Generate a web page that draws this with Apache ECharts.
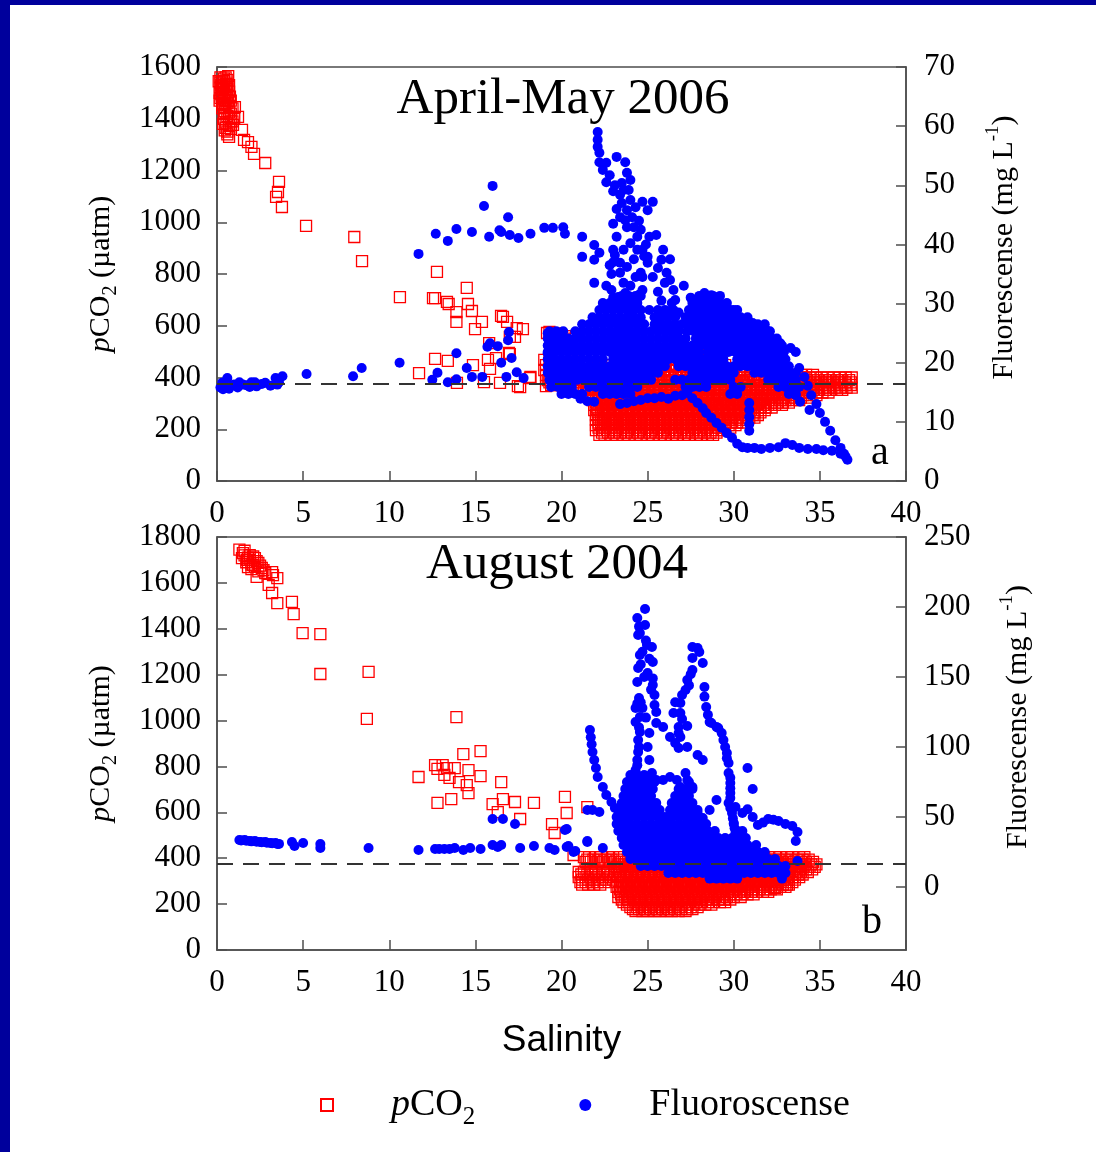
<!DOCTYPE html>
<html>
<head>
<meta charset="utf-8">
<script src="https://cdn.jsdelivr.net/npm/echarts@6/dist/echarts.min.js"></script>
<style>
html,body{margin:0;padding:0;background:#ffffff;}
#chart{width:1096px;height:1152px;}
</style>
</head>
<body>
<div id="chart"></div>
<script>
// ---------------- DATA ----------------
// Panel a: April-May 2006. pCO2 pairs [salinity, pCO2 µatm]
const aprPco2Sparse = [
[0.2,1560],[0.3,1545],[0.4,1555],[0.5,1560],[0.6,1550],[0.2,1520],[0.3,1500],[0.4,1530],[0.5,1510],[0.6,1525],
[0.2,1480],[0.3,1460],[0.5,1470],[0.6,1490],[0.7,1505],[0.3,1440],[0.4,1420],[0.5,1445],[0.7,1450],[0.8,1470],
[0.4,1400],[0.5,1385],[0.6,1410],[0.8,1420],[0.9,1440],[0.5,1365],[0.6,1350],[0.7,1375],[0.9,1390],[1.0,1400],
[0.6,1340],[0.8,1360],[0.1,1545],[0.15,1500],[0.25,1530],[0.35,1515],[0.45,1490],[0.55,1535],[0.65,1565],[0.15,1470],
[0.3,1485],[0.45,1455],[0.65,1470],[0.75,1485],[0.35,1380],[0.45,1355],[0.8,1390],[0.7,1330],
[0.2,1540],[0.3,1525],[0.4,1545],[0.5,1535],[0.6,1515],[0.7,1530],[0.25,1495],[0.4,1475],[0.55,1480],[0.35,1455],
[0.6,1460],[0.45,1430],[0.7,1425],
[1.04,1445],[1.22,1407],[0.93,1376],[1.45,1357],[1.57,1318],[1.8,1310],[2.0,1291],[2.15,1264],[2.8,1229],[3.6,1156],
[3.54,1117],[3.43,1098],[3.77,1059],[5.17,986],[7.97,943],[8.42,850],[10.62,711],[12.77,808],[12.54,707],[12.66,707],
[13.35,692],[13.45,684],[13.9,653],[13.9,615],[14.5,746],[14.57,684],[14.8,657],[15.38,615],[14.98,587],[16.49,638],
[16.84,615],[17.76,587],[17.3,557],[17.0,557],[15.8,533],[16.95,495],[19.16,572],[12.66,472],[13.4,464],[11.73,417],
[14.86,448],[15.73,468],[15.85,433],[16.2,475],[17.0,490],[18.17,398],[17.47,367],[16.43,379],[15.5,382],[13.93,379],
[19.1,367],[16.6,634],[17.4,591],[19.3,576],[19.8,570],[20.2,560],[20.6,550],[18.2,402],[17.6,363]
];
// dense part of panel a pCO2: rows of [pCO2, [salinities]]
const aprPco2Dense = [
[506,[25.9,26.3,26.6,26.9,28.9,29.2]],
[487,[25.0,25.4,25.7,26.0,26.4,26.7,27.1,27.4,27.8,28.1,28.5]],
[468,[19.0,19.3,19.7,20.0,20.3,20.7,21.0,21.4,24.1,24.5,24.8,25.1,25.5,25.8,26.2,26.5,26.8,27.2,27.5,27.9,28.2,28.6,28.9,29.3]],
[448,[19.1,19.5,19.8,20.2,20.5,20.9,21.2,21.5,21.9,22.3,22.6,22.9,23.3,23.6,24.0,24.3,24.7,25.0,25.3,25.7,26.0,26.4,26.7,27.0,27.4,27.7,28.1,28.4,28.8,29.1,29.5]],
[429,[19.0,19.3,19.7,20.0,20.4,20.7,21.1,21.4,21.7,22.1,22.4,22.8,23.1,23.5,23.8,24.2,24.5,24.9,25.2,25.6,25.9,26.2,26.6,26.9,27.3,27.6,28.0,28.3,28.6,29.0,29.3,29.7,30.0,30.4]],
[410,[19.1,19.5,19.8,20.2,20.5,20.9,21.2,21.6,21.9,22.3,22.6,22.9,23.3,23.6,24.0,24.4,24.7,25.0,25.4,25.7,26.1,26.4,26.8,27.1,27.5,27.8,28.2,28.5,28.9,29.2,29.6,29.9,30.3,30.6,31.0,31.4,33.5,33.9,34.2,34.6]],
[400,[19.3,19.65,20.0,20.35,20.7,21.05,21.4,21.75,22.1,22.45,22.8,23.15,23.5,23.85,24.2,24.55,24.9,25.25,25.6,25.95,26.3,26.65,27.0,27.35,27.7,28.05,28.4,28.75,29.1,29.45,29.8,30.15,30.5,30.85,31.2,33.7,34.05,34.4,34.75,35.1,35.45,35.8,36.15,36.5,36.85]],
[390,[19.2,19.5,19.9,20.2,20.6,20.9,21.3,21.6,22.0,22.3,22.7,23.0,23.4,23.7,24.1,24.4,24.8,25.1,25.5,25.8,26.2,26.5,26.9,27.2,27.6,27.9,28.3,28.6,29.0,29.3,29.7,30.0,30.4,30.7,31.1,31.4,31.8,32.1,32.5,32.8,33.2,33.5,33.9,34.2,34.6,34.9,35.3,35.6,36.0,36.3,36.7]],
[381,[19.3,19.65,20.0,20.35,20.7,21.05,21.4,21.75,22.1,22.45,22.8,23.15,23.5,23.85,24.2,24.55,24.9,25.25,25.6,25.95,26.3,26.65,27.0,27.35,27.7,28.05,28.4,28.75,29.1,29.45,29.8,30.15,30.5,30.85,31.2,31.55,31.9,32.25,32.6,32.95,33.3,33.65,34.0,34.35,34.7,35.05,35.4,35.75,36.1,36.45,36.8]],
[371,[19.4,19.7,20.1,20.4,20.8,21.1,21.5,21.8,22.2,22.5,22.9,23.2,23.6,23.9,24.3,24.6,25.0,25.3,25.7,26.0,26.4,26.7,27.1,27.4,27.8,28.1,28.5,28.8,29.2,29.5,29.9,30.2,30.6,30.9,31.3,31.6,32.0,32.3,32.7,33.0,33.4,33.7,34.1,34.4,34.8,35.1,35.5,35.8,36.2,36.5,36.8]],
[361,[20.1,20.45,20.8,21.15,21.5,21.85,22.2,22.55,22.9,23.25,23.6,23.95,24.3,24.65,25.0,25.35,25.7,26.05,26.4,26.75,27.1,27.45,27.8,28.15,28.5,28.85,29.2,29.55,29.9,30.25,30.6,30.95,31.3,31.65,32.0,32.35,32.7,33.05,33.4,33.75,34.1,34.45,34.8,35.15,35.5,35.85,36.2,36.55,36.85]],
[352,[20.9,21.3,21.6,22.0,22.3,22.7,23.0,23.4,23.7,24.1,24.4,24.8,25.1,25.5,25.8,26.2,26.5,26.9,27.2,27.6,27.9,28.3,28.6,29.0,29.3,29.7,30.0,30.4,30.7,31.1,31.4,31.8,32.1,32.5,32.8,33.2,33.5,33.9,34.2,34.6,34.9,35.3,35.6,36.0,36.3]],
[342,[21.5,21.85,22.2,22.55,22.9,23.25,23.6,23.95,24.3,24.65,25.0,25.35,25.7,26.05,26.4,26.75,27.1,27.45,27.8,28.15,28.5,28.85,29.2,29.55,29.9,30.25,30.6,30.95,31.3,31.65,32.0,32.35,32.7,33.05,33.4,33.75,34.1,34.45,34.8,35.15,35.5]],
[332,[21.8,22.1,22.5,22.8,23.2,23.5,23.9,24.2,24.6,24.9,25.3,25.6,26.0,26.3,26.7,27.0,27.4,27.7,28.1,28.4,28.8,29.1,29.5,29.8,30.2,30.5,30.9,31.2,31.6,31.9,32.3,32.6,33.0,33.3,33.7,34.0,34.4,34.8]],
[322,[22.0,22.35,22.7,23.05,23.4,23.75,24.1,24.45,24.8,25.15,25.5,25.85,26.2,26.55,26.9,27.25,27.6,27.95,28.3,28.65,29.0,29.35,29.7,30.05,30.4,30.75,31.1,31.45,31.8,32.15,32.5,32.85,33.2,33.55,33.9,34.25]],
[313,[21.8,22.2,22.5,22.9,23.2,23.6,23.9,24.3,24.6,25.0,25.3,25.7,26.0,26.4,26.7,27.1,27.4,27.8,28.1,28.5,28.8,29.2,29.5,29.9,30.2,30.6,30.9,31.3,31.6,32.0,32.3,32.7,33.0,33.4,33.8]],
[303,[22.0,22.35,22.7,23.05,23.4,23.75,24.1,24.45,24.8,25.15,25.5,25.85,26.2,26.55,26.9,27.25,27.6,27.95,28.3,28.65,29.0,29.35,29.7,30.05,30.4,30.75,31.1,31.45,31.8,32.15,32.5,32.85,33.2]],
[294,[21.9,22.2,22.6,22.9,23.3,23.6,24.0,24.3,24.7,25.0,25.4,25.7,26.1,26.4,26.8,27.1,27.5,27.8,28.2,28.5,28.9,29.2,29.6,29.9,30.3,30.6,31.0,31.3,31.7,32.0,32.4,32.8]],
[284,[22.05,22.4,22.75,23.1,23.45,23.8,24.15,24.5,24.85,25.2,25.55,25.9,26.25,26.6,26.95,27.3,27.65,28.0,28.35,28.7,29.05,29.4,29.75,30.1,30.45,30.8,31.15,31.5,31.85,32.2]],
[274,[21.9,22.3,22.6,23.0,23.3,23.7,24.0,24.4,24.7,25.1,25.4,25.8,26.1,26.5,26.8,27.2,27.5,27.9,28.2,28.6,28.9,29.3,29.6,30.0,30.3,30.7,31.0,31.4,31.8]],
[265,[22.1,22.45,22.8,23.15,23.5,23.85,24.2,24.55,24.9,25.25,25.6,25.95,26.3,26.65,27.0,27.35,27.7,28.05,28.4,28.75,29.1,29.45,29.8,30.15,30.5,30.85,31.2,31.55]],
[255,[22.0,22.3,22.7,23.0,23.4,23.7,24.1,24.4,24.8,25.1,25.5,25.8,26.2,26.5,26.9,27.2,27.6,27.9,28.3,28.6,29.0,29.3,29.7,30.0,30.4,30.7,31.1,31.4]],
[245,[22.15,22.5,22.85,23.2,23.55,23.9,24.25,24.6,24.95,25.3,25.65,26.0,26.35,26.7,27.05,27.4,27.75,28.1,28.45,28.8,29.15,29.5,29.85,30.2,30.55,30.9,31.2]],
[236,[22.0,22.4,22.7,23.1,23.4,23.8,24.1,24.5,24.8,25.2,25.5,25.9,26.2,26.6,26.9,27.3,27.6,28.0,28.3,28.7,29.0,29.4,29.7,30.1,30.4,30.8]],
[226,[22.15,22.5,22.85,23.2,23.55,23.9,24.25,24.6,24.95,25.3,25.65,26.0,26.35,26.7,27.05,27.4,27.75,28.1,28.45,28.8,29.15,29.5,29.85,30.2,30.55]],
[216,[22.0,22.3,22.7,23.0,23.4,23.7,24.1,24.4,24.8,25.1,25.5,25.8,26.2,26.5,26.9,27.2,27.6,27.9,28.3,28.6,29.0,29.3,29.7,30.1]],
[206,[22.15,22.5,22.85,23.2,23.55,23.9,24.25,24.6,24.95,25.3,25.65,26.0,26.35,26.7,27.05,27.4,27.75,28.1,28.45,28.8,29.15,29.5,29.8]],
[197,[22.0,22.4,22.7,23.1,23.4,23.8,24.1,24.5,24.8,25.2,25.5,25.9,26.2,26.6,26.9,27.3,27.6,28.0,28.3,28.7,29.0,29.4]],
[187,[22.35,22.7,23.05,23.4,23.75,24.1,24.45,24.8,25.15,25.5,25.85,26.2,26.55,26.9,27.25,27.6,27.95,28.3,28.65,29.0]],
[178,[22.2,22.5,22.9,23.2,23.6,23.9,24.3,24.6,25.0,25.3,25.7,26.0,26.4,26.7,27.1,27.4,27.8,28.1,28.5,28.8]]
];
// Panel a fluorescence pairs [salinity, fluorescence mg/L]
const aprFluoSparse = [
[0.2,15.8],[0.3,16.6],[0.35,15.5],[0.5,16.0],[0.6,17.4],[0.7,15.6],[0.9,16.2],[1.0,16.3],[1.2,15.8],[1.3,16.7],
[1.5,16.3],[1.7,16.2],[1.9,15.9],[2.0,16.7],[2.2,16.7],[2.3,16.0],[2.6,16.4],[2.8,16.6],[3.1,16.1],[3.4,17.4],
[3.5,16.3],[3.6,16.7],[3.8,17.7],[5.2,18.1],[7.9,17.7],[8.4,19.1],[10.6,20.0],
[11.7,38.4],[12.7,41.8],[13.4,40.6],[13.9,42.6],[14.8,42.1],[15.5,46.5],[16.0,49.9],[15.8,41.3],[16.5,42.1],[16.9,44.6],
[16.4,42.4],[17.0,41.6],[17.5,41.1],[18.2,41.8],[19.0,42.8],[19.5,42.8],[20.1,42.9],[20.2,41.8],[21.2,41.3],[21.9,39.9],
[21.2,37.9],[22.2,38.6],[21.9,37.4],[22.8,36.5],[21.9,33.5],[22.9,32.3],[23.3,31.1],
[12.5,17.1],[12.8,18.3],[13.4,16.7],[13.9,17.2],[13.9,21.6],[14.5,19.1],[14.8,17.6],[15.4,17.6],[15.7,22.7],[15.85,23.3],
[16.3,22.8],[16.5,20.0],[16.9,23.8],[16.95,25.2],[17.1,20.8],[16.8,17.6],[17.4,18.4],[17.8,17.4],[19.2,25.0],[19.2,21.6],
[22.1,59.0],[22.1,57.7],[22.1,56.5],[22.2,55.5],[22.2,53.9],[22.6,53.8],[22.4,52.6],[23.2,54.8],[23.7,53.9],[23.8,52.1],
[24.0,50.9],[23.5,50.4],[23.6,49.2],[23.9,49.2],[23.5,47.0],[23.8,45.8],[23.4,44.6],[24.1,44.6],[24.2,42.9],[24.7,47.2],
[25.3,47.2],[25.0,45.8],[23.8,42.9],[24.4,41.3],[23.2,41.3],[23.0,39.1],[23.6,39.1],[23.4,36.9],[23.8,36.2],[24.4,39.1],
[24.7,39.1],[25.1,41.3],[25.5,41.6],[25.0,37.9],[25.0,36.9],[25.9,39.1],[25.8,37.4],[26.1,35.2],[26.3,34.0],[26.5,32.3],
[26.6,30.6],[26.5,28.9],[23.4,35.2],[23.6,33.5],[23.7,31.8],[23.8,30.1],[23.9,28.4],[24.3,34.5],[24.6,35.2],[24.7,34.5],
[24.7,32.3],[25.1,28.9],[25.6,32.0],[22.8,51.7],[23.1,50.0],[23.4,48.4],[24.0,47.5],[23.7,44.1],[24.0,40.2],[23.1,38.2],
[22.6,50.5],[23.0,49.0],[23.2,46.0],[24.3,46.3],[24.5,44.0],[23.0,43.5],[24.6,42.5],[24.9,40.0],[23.0,37.0],[24.2,37.5],
[24.8,38.0],[22.9,35.0],[24.0,33.0],[24.5,31.5],[25.3,34.5],[25.6,36.0],[26.0,33.5],[25.8,30.5],[24.3,30.0],[22.6,33.0],
[23.0,31.0],[26.3,37.5],[26.8,28.5],[27.1,33.0],[27.5,31.0],
[28.0,31.1],[28.3,31.8],[28.7,31.4],[29.1,30.6],[29.3,29.8],[30.0,28.9],[30.4,27.6],[31.1,26.7],[31.5,25.9],[31.9,25.5],
[32.3,23.8],[32.7,23.3],[32.9,21.8],[32.9,20.0],[33.3,22.5],[33.6,21.8],
[27.3,14.9],[27.6,14.0],[27.9,13.2],[28.2,12.3],[28.4,11.5],[28.7,10.7],[29.0,9.8],[29.3,9.0],[29.6,8.1],[29.9,7.3],[30.2,6.3],
[30.5,5.7],[30.8,5.6],[31.2,5.6],[31.6,5.4],[32.1,5.6],[32.6,5.7],[33.0,6.4],[33.4,6.1],[33.8,5.6],[34.3,5.4],[34.8,5.4],
[35.2,5.2],[35.7,5.1],[36.2,4.6],[36.5,4.1],[36.6,3.6],
[33.8,19.1],[34.1,17.6],[34.3,16.1],[34.5,14.5],[34.8,13.0],[35.0,11.5],[35.3,10.0],[35.6,8.5],[35.9,6.9],[36.2,5.6],[36.4,4.6],
[34.4,12.0],[33.6,14.5],[33.85,13.4],
[30.9,13.2],[30.9,12.0],[30.9,10.8],[30.9,9.6],[30.9,8.5],
[23.4,13.0],[23.8,13.2],[24.2,13.5],[24.6,13.7],[25.0,14.0],[25.4,14.0],[25.8,14.2],[26.2,13.9],[26.6,14.4],[27.0,14.5],
[21.1,13.9],[21.5,13.5],[21.9,13.4]
];
// dense part of panel a fluorescence: rows of [fluorescence, [salinities]]
const aprFluoDense = [
[31.3,[23.5,23.9,24.3,24.6,28.0,28.4,28.8,29.2]],
[30.1,[22.4,22.8,23.2,23.6,24.0,24.4,26.4,27.6,28.0,28.4,28.8,29.2,29.6]],
[28.9,[22.2,22.6,23.0,23.4,23.8,24.2,24.6,25.6,26.0,26.4,27.4,27.8,28.2,28.6,29.0,29.4,29.8,30.2]],
[27.7,[21.8,22.2,22.6,23.0,23.4,23.8,24.2,24.6,25.4,25.8,26.2,26.6,27.2,27.6,28.0,28.4,28.8,29.2,29.6,30.0,30.4,30.8]],
[26.5,[21.2,21.6,22.0,22.4,22.8,23.2,23.6,24.0,24.4,24.8,25.4,25.8,26.2,26.6,27.0,27.4,27.8,28.2,28.6,29.0,29.4,29.8,30.2,30.6,31.0,31.4,31.8]],
[25.3,[19.3,19.7,20.1,20.8,21.2,21.6,22.0,22.4,22.8,23.2,23.6,24.0,24.4,24.8,25.2,25.6,26.0,26.4,26.8,27.3,27.7,28.1,28.5,28.9,29.3,29.7,30.1,30.5,30.9,31.3,31.7,32.1]],
[24.1,[19.2,19.6,20.0,20.4,20.8,21.2,21.6,22.0,22.4,22.8,23.2,23.6,24.0,24.4,24.8,25.2,25.6,26.0,26.4,26.8,27.2,27.8,28.2,28.6,29.0,29.4,29.8,30.2,30.6,31.0,31.4,31.8,32.2,32.5]],
[22.9,[19.2,19.6,20.0,20.4,20.8,21.2,21.6,22.0,22.4,22.8,23.2,23.6,24.0,24.4,24.8,25.2,25.6,26.0,26.4,26.8,27.2,27.6,28.0,28.4,28.8,29.2,29.6,30.0,30.4,30.8,31.2,31.6,32.0,32.4,32.8]],
[21.8,[19.2,19.6,20.0,20.4,20.8,21.2,21.6,22.0,22.4,22.8,23.2,23.6,24.0,24.4,24.8,25.2,25.6,26.0,26.4,26.8,27.2,27.6,28.0,28.5,28.9,29.3,29.7,30.1,30.5,30.9,31.3,31.7,32.1,32.5,32.9]],
[20.6,[19.2,19.6,20.0,20.4,20.8,21.2,21.6,22.0,22.4,23.0,23.4,23.8,24.2,24.6,25.0,25.4,25.8,26.2,26.6,27.0,27.4,27.8,28.2,28.6,29.0,29.4,30.2,30.6,31.0,31.4,31.8,32.2,32.6,33.0]],
[19.4,[19.2,19.6,20.0,20.4,20.8,21.2,21.6,22.0,22.4,22.8,23.2,23.6,24.0,24.4,24.8,25.2,25.6,26.0,26.8,27.2,27.6,28.0,28.4,28.8,29.2,29.6,30.0,30.4,30.8,31.2,31.6,32.0,32.4,32.8,33.2]],
[18.3,[19.2,19.6,20.0,20.4,20.8,21.2,21.6,22.0,22.4,22.8,23.2,23.6,24.0,24.4,24.8,25.2,25.6,27.6,28.0,28.4,28.8,29.2,29.6,30.0,31.2,31.6,32.0,32.4,32.8,33.2,33.6]],
[17.1,[19.3,19.7,20.1,20.5,20.9,21.3,21.7,22.1,22.5,22.9,23.3,23.7,24.1,24.5,24.9,25.2,26.6,27.0,27.4,27.8,28.2,28.6,29.0,29.4,29.8,32.0,32.4,32.8,33.2,33.6]],
[15.9,[19.4,19.8,20.2,20.6,21.6,22.0,22.4,22.8,23.2,23.6,24.0,24.4,27.2,27.6,28.0,28.4,30.0,30.4,32.6,33.0,33.4,33.8]],
[14.7,[20.0,20.4,20.8,21.2,22.4,22.8,23.2,23.6,24.0,29.8,30.2,33.2,33.6]]
];

// Panel b: August 2004
const augPco2Sparse = [
[1.5,1730],[1.9,1721],[1.74,1700],[1.45,1708],[2.2,1708],[2.1,1678],[2.4,1687],[1.8,1669],[2.6,1665],[2.3,1626],
[2.8,1643],[3.2,1647],[3.25,1634],[3.5,1621],[3.0,1591],[3.2,1556],[3.5,1512],[4.35,1517],[4.45,1464],[4.97,1381],
[6.0,1377],[6.0,1203],[8.8,1212],[8.7,1007],[1.6,1720],[1.7,1690],[1.9,1700],[2.0,1680],[2.1,1715],[2.3,1695],
[2.5,1675],[2.0,1660],[2.4,1650],[2.7,1655],[1.8,1710],[2.2,1670],[1.3,1745],[1.6,1740],
[11.7,754],[12.66,806],[12.8,789],[13.1,806],[13.35,793],[13.2,763],[13.5,750],[13.8,793],[14.3,854],[14.6,784],
[14.05,732],[14.5,719],[14.6,684],[15.3,758],[15.3,867],[13.9,1015],[12.8,641],[13.6,658],[16.0,636],[16.3,601],
[16.5,732],[16.6,658],[17.3,645],[17.6,571],[18.4,641],[19.45,549],[19.6,510],[20.2,667],[20.3,597],[20.7,414],[21.5,623],
[30.8,253],[31.5,305],[32.1,296],[32.7,314],[33.4,318],[33.8,340],[33.1,285],[32.4,270]
];
const augPco2Dense = [
[470,[25.8,26.1,26.5,26.8,27.1]],
[448,[25.5,25.9,26.2,26.6,26.9,27.3]],
[427,[24.2,24.6,24.9,25.3,25.6,26.0,26.3,26.7,27.0,27.4,27.7,28.1,28.4,28.8,29.1,29.5]],
[405,[21.3,21.6,22.0,22.3,22.7,23.0,23.4,24.0,24.3,24.7,25.0,25.4,25.7,26.1,26.4,26.8,27.1,27.5,27.8,28.2,28.5,28.9,29.2,29.6,29.9,30.3,30.6,31.0,31.3,31.7,32.0,32.4,32.7,33.1,33.4,33.8,34.1]],
[394,[21.5,21.85,22.2,22.55,22.9,23.25,23.85,24.2,24.55,24.9,25.25,25.6,25.95,26.3,26.65,27.0,27.35,27.7,28.05,28.4,28.75,29.1,29.45,29.8,30.15,30.5,30.85,31.2,31.55,31.9,32.25,32.6,32.95,33.3,33.65,34.0,34.35]],
[384,[21.4,21.7,22.1,22.4,22.8,23.1,23.5,24.1,24.4,24.8,25.1,25.5,25.8,26.2,26.5,26.9,27.2,27.6,27.9,28.3,28.6,29.0,29.3,29.7,30.0,30.4,30.7,31.1,31.4,31.8,32.1,32.5,32.8,33.2,33.5,33.9,34.2,34.6]],
[373,[23.3,23.65,24.0,24.35,24.7,25.05,25.4,25.75,26.1,26.45,26.8,27.15,27.5,27.85,28.2,28.55,28.9,29.25,29.6,29.95,30.3,30.65,31.0,31.35,31.7,32.05,32.4,32.75,33.1,33.45,33.8,34.15,34.5,34.8]],
[362,[23.2,23.5,23.9,24.2,24.6,24.9,25.3,25.6,26.0,26.3,26.7,27.0,27.4,27.7,28.1,28.4,28.8,29.1,29.5,29.8,30.2,30.5,30.9,31.2,31.6,31.9,32.3,32.6,33.0,33.3,33.7,34.0,34.4,34.7]],
[351,[23.35,23.7,24.05,24.4,24.75,25.1,25.45,25.8,26.15,26.5,26.85,27.2,27.55,27.9,28.25,28.6,28.95,29.3,29.65,30.0,30.35,30.7,31.05,31.4,31.75,32.1,32.45,32.8,33.15,33.5,33.85,34.2,34.55]],
[340,[21.0,21.3,21.7,22.0,22.4,22.7,23.1,23.4,23.8,24.1,24.5,24.8,25.2,25.5,25.9,26.2,26.6,26.9,27.3,27.6,28.0,28.3,28.7,29.0,29.4,29.7,30.1,30.4,30.8,31.1,31.5,31.8,32.2,32.5,32.9,33.2,33.6,33.9,34.3]],
[329,[21.15,21.5,21.85,22.2,22.55,22.9,23.25,23.6,23.95,24.3,24.65,25.0,25.35,25.7,26.05,26.4,26.75,27.1,27.45,27.8,28.15,28.5,28.85,29.2,29.55,29.9,30.25,30.6,30.95,31.3,31.65,32.0,32.35,32.7,33.05,33.4,33.75,34.0]],
[318,[21.0,21.4,21.7,22.1,22.4,22.8,23.3,23.6,24.0,24.3,24.7,25.0,25.4,25.7,26.1,26.4,26.8,27.1,27.5,27.8,28.2,28.5,28.9,29.2,29.6,29.9,30.3,30.6,31.0,31.3,31.7,32.0,32.4,32.7,33.1,33.4,33.8]],
[307,[21.2,21.55,21.9,22.25,22.6,23.0,23.4,23.75,24.1,24.45,24.8,25.15,25.5,25.85,26.2,26.55,26.9,27.25,27.6,27.95,28.3,28.65,29.0,29.35,29.7,30.05,30.4,30.75,31.1,31.45,31.8,32.15,32.5,32.85,33.2,33.55]],
[296,[21.1,21.4,21.8,22.1,22.5,23.2,23.5,23.9,24.2,24.6,24.9,25.3,25.6,26.0,26.3,26.7,27.0,27.4,27.7,28.1,28.4,28.8,29.1,29.5,29.8,30.2,30.5,30.9,31.2,31.6,31.9,32.3,32.6,33.0,33.4]],
[285,[21.2,21.55,21.9,22.25,23.4,23.75,24.1,24.45,24.8,25.15,25.5,25.85,26.2,26.55,26.9,27.25,27.6,27.95,28.3,28.65,29.0,29.35,29.7,30.05,30.4,30.75,31.1,31.45,31.8,32.15,32.5,32.85,33.2]],
[275,[23.2,23.6,23.9,24.3,24.6,25.0,25.3,25.7,26.0,26.4,26.7,27.1,27.4,27.8,28.1,28.5,28.8,29.2,29.5,29.9,30.2,30.6,30.9,31.3,31.6,32.0,32.3,32.7,33.0]],
[264,[23.4,23.75,24.1,24.45,24.8,25.15,25.5,25.85,26.2,26.55,26.9,27.25,27.6,27.95,28.3,28.65,29.0,29.35,29.7,30.05,30.4,30.75,31.1,31.45,31.8,32.15,32.5]],
[253,[23.3,23.6,24.0,24.3,24.7,25.0,25.4,25.7,26.1,26.4,26.8,27.1,27.5,27.8,28.2,28.5,28.9,29.2,29.6,29.9,30.3,30.6,31.0,31.3,31.7,32.0]],
[242,[23.45,23.8,24.15,24.5,24.85,25.2,25.55,25.9,26.25,26.6,26.95,27.3,27.65,28.0,28.35,28.7,29.05,29.4,29.75,30.1,30.45,30.8,31.15]],
[231,[23.3,23.7,24.0,24.4,24.7,25.1,25.4,25.8,26.1,26.5,26.8,27.2,27.5,27.9,28.2,28.6,28.9,29.3,29.6,30.0,30.4]],
[220,[23.5,23.85,24.2,24.55,24.9,25.25,25.6,25.95,26.3,26.65,27.0,27.35,27.7,28.05,28.4,28.75,29.1,29.45,29.8]],
[209,[23.6,23.9,24.3,24.6,25.0,25.3,25.7,26.0,26.4,26.7,27.1,27.4,27.8,28.1,28.5,28.8,29.2,29.5]],
[198,[23.8,24.15,24.5,24.85,25.2,25.55,25.9,26.25,26.6,26.95,27.3,27.65,28.0,28.35,28.7]],
[187,[24.0,24.4,24.7,25.1,25.4,25.8,26.1,26.5,26.8,27.2,27.5,27.9]],
[178,[24.15,24.5,24.85,25.2,25.55,25.9,26.25,26.6,26.95,27.3,27.6]],
[170,[24.3,24.7,25.0,25.4,25.7,26.1,26.4,26.8,27.2]]
];
const augFluoSparse = [
[1.3,33.6],[1.6,33.6],[1.9,32.9],[2.2,32.9],[2.5,32.1],[2.8,32.1],[3.1,31.4],[3.4,31.4],[3.5,30.7],[4.35,32.1],
[4.5,29.3],[5.0,31.4],[6.0,30.7],[6.0,27.9],[8.8,27.9],[11.7,26.4],[12.66,27.1],[12.9,27.1],[13.2,27.1],[13.5,27.1],
[13.8,27.9],[14.3,26.4],[14.7,27.9],[15.3,27.1],[16.0,30.0],[16.5,30.0],[16.3,28.6],[16.0,48.6],[16.6,48.6],[17.3,45.0],
[17.6,27.9],[18.4,29.3],[19.3,27.9],[19.6,26.4],[20.3,41.4],[20.4,29.3],[20.8,25.7],[21.5,32.9],
[1.4,33.2],[1.7,33.0],[2.0,32.6],[2.3,32.4],[2.6,32.0],[2.9,31.6],[3.2,31.2],[3.6,30.8],
[21.65,112.1],[21.7,107.0],[21.75,102.0],[21.8,96.4],[21.9,90.7],[22.0,85.0],[22.1,78.6],[22.4,71.4],[22.6,65.7],[22.9,60.7],
[23.1,56.4],[23.3,51.4],[23.6,47.9],[23.8,42.9],[24.0,38.6],[21.5,55.0],[21.8,55.0],[22.2,53.6],[20.3,28.6],[20.7,25.0],
[21.5,32.1],[22.4,27.9],[20.2,40.7],
[24.85,198.6],[24.4,192.1],[24.85,187.1],[24.55,181.4],[24.45,180.0],[24.96,172.9],[25.25,171.4],[24.55,165.7],[25.3,160.7],[24.45,156.4],
[25.0,152.9],[24.4,146.4],[25.3,144.3],[25.4,137.1],[24.3,127.9],[24.7,127.9],[24.55,121.4],[25.4,130.0],[25.5,125.0],[24.3,117.9],
[25.5,117.1],[24.55,110.7],[24.45,105.0],[24.45,96.4],[24.4,90.7],[24.3,83.6],[24.4,76.4],[24.15,69.3],[24.3,62.1],
[24.5,186.0],[24.9,176.0],[24.7,168.0],[25.1,163.0],[24.6,159.0],[24.8,150.0],[25.2,141.0],[24.5,135.0],[24.4,131.0],[24.5,114.0],
[24.5,100.0],[24.4,87.0],[24.3,80.0],[24.3,73.0],[25.3,149.0],[24.9,121.0],[24.6,132.0],
[27.6,171.4],[27.9,170.7],[28.0,167.9],[27.6,163.6],[28.2,160.0],[27.6,155.0],[27.3,147.9],[27.2,140.7],[27.0,137.1],[26.9,131.4],
[26.6,132.0],[26.5,124.3],[26.9,124.3],[26.8,114.3],[26.9,107.1],[27.3,115.0],[28.3,142.9],[28.4,128.6],[28.6,117.9],[29.0,114.3],
[29.3,110.0],[29.4,105.0],[29.5,100.0],[29.6,95.7],[29.7,88.6],[29.7,81.4],[29.8,74.3],[29.8,67.1],[29.7,60.0],[29.9,52.9],
[30.0,45.7],[30.1,38.6],[30.2,31.4],[30.4,26.4],[27.5,152.0],[27.4,144.0],[28.3,136.0],[28.5,123.0],[27.0,120.0],[26.8,110.0],
[29.6,92.0],[29.8,78.0],[29.8,70.5],[29.8,63.5],[29.8,56.5],[29.95,49.0],[30.05,42.0],[30.15,35.0],
[25.0,100.0],[25.1,90.7],[25.25,81.4],[25.5,76.4],[25.9,76.4],[26.3,78.6],[26.7,76.4],[26.9,71.4],[27.2,81.4],[27.3,76.4],
[27.6,71.4],[27.3,62.1],[26.9,64.3],[26.8,57.1],[27.3,55.0],[27.9,52.9],[26.3,47.9],[25.7,45.7],[26.9,42.9],[27.3,35.7],
[27.75,28.6],[25.1,110.0],[25.9,114.3],[26.3,107.1],[26.6,102.9],[26.8,99.3],[27.3,100.0],[27.9,94.3],[28.2,90.7],[28.7,117.1],
[29.1,113.6],[29.0,62.1],[28.6,55.0],[28.2,49.3],[27.6,47.9],
[30.1,57.1],[30.5,52.9],[31.1,50.0],[31.4,44.3],[32.0,48.6],[32.6,47.1],[33.4,43.6],[33.7,39.3],[33.6,32.9],[30.8,85.0],
[31.1,70.0],[31.4,25.0],[33.7,18.6],[31.7,46.0],[32.3,48.0],[33.0,45.0],[30.8,55.5]
];
const augFluoDense = [
[80,[24.0,24.4,24.8,25.2]],
[75,[23.8,24.2,24.6,25.0,25.4,27.4]],
[70,[23.7,24.1,24.5,24.9,25.3,26.8,27.2,27.6]],
[65,[23.6,24.0,24.4,24.8,25.2,26.6,27.0,27.4]],
[60,[23.5,23.9,24.3,24.7,25.1,25.5,26.4,26.8,27.2,27.6]],
[55,[23.3,23.7,24.1,24.5,24.9,25.3,25.7,26.3,26.7,27.1,27.5,27.9]],
[50,[23.2,23.6,24.0,24.4,24.8,25.2,25.6,26.0,26.4,26.8,27.2,27.6,28.0]],
[45,[23.2,23.6,24.0,24.4,24.8,25.2,25.6,26.0,26.4,26.8,27.2,27.6,28.0,28.4,30.0]],
[40,[23.3,23.7,24.1,24.5,24.9,25.3,25.7,26.1,26.5,26.9,27.3,27.7,28.1,28.5,28.9,30.2,30.5]],
[35,[23.5,23.9,24.3,24.7,25.1,25.5,25.9,26.3,26.7,27.1,27.5,27.9,28.3,28.7,29.1,29.5,29.9,30.3,30.7]],
[30,[23.6,24.0,24.4,24.8,25.2,25.6,26.0,26.4,26.8,27.2,27.6,28.0,28.4,28.8,29.2,29.6,30.0,30.4,30.8,31.3]],
[25,[23.8,24.2,24.6,25.0,25.4,25.8,26.2,26.6,27.0,27.4,27.8,28.2,28.6,29.0,29.4,29.8,30.2,30.6,31.0,31.4,31.8]],
[20,[24.0,24.4,24.8,25.2,25.6,26.0,26.4,26.8,27.2,27.6,28.0,28.4,28.8,29.2,29.6,30.0,30.4,30.8,31.2,31.6,32.0,32.4]],
[15,[24.6,25.0,25.4,25.8,26.2,26.6,27.0,27.4,27.8,28.2,28.6,29.0,29.4,29.8,30.2,30.6,31.0,31.4,31.8,32.2,32.6,33.0]],
[10,[26.2,26.6,27.0,27.4,27.8,28.2,28.6,29.0,29.4,29.8,30.2,30.6,31.0,31.4,31.8,32.2,32.6,33.0]],
[6,[28.6,29.0,29.4,29.8,30.2,32.8]]
];
// atmospheric reference pCO2 (dashed line)
const atmPco2 = 375;
// axis ticks
const salinityTicks = {min: 0, max: 40, step: 5};
const fluoTicksB = [0, 50, 100, 150, 200, 250];

// ---------------- CHART ----------------
function expandRows(rows) {
  const pts = [];
  rows.forEach(r => r[1].forEach(s => pts.push([s, r[0]])));
  return pts;
}

const SERIF = '"Liberation Serif", "Times New Roman", serif';
const SANS = '"Liberation Sans", Arial, sans-serif';
const AX = '#4d4d4d';
const plain = v => String(v);

const redStyle = {color: 'rgba(255,255,255,0)', borderColor: '#ff0000', borderWidth: 1.3, opacity: 1};
const blueStyle = {color: '#0000ff', opacity: 1};

function xAxisCfg(grid, withName) {
  const c = {
    type: 'value', gridIndex: grid, min: salinityTicks.min, max: salinityTicks.max, interval: salinityTicks.step,
    axisLine: {show: true, lineStyle: {color: AX, width: 1.5}},
    axisTick: {show: true, inside: true, length: 10, lineStyle: {color: AX, width: 1.5}},
    axisLabel: {fontFamily: SERIF, fontSize: 31, color: '#000', margin: 17, formatter: plain},
    splitLine: {show: false}
  };
  if (withName) {
    c.name = 'Salinity';
    c.nameLocation = 'middle';
    c.nameGap = 71;
    c.nameTextStyle = {fontFamily: SANS, fontSize: 37, color: '#000', lineHeight: 40};
  }
  return c;
}

const pco2NameStyle = {
  fontFamily: SERIF, fontSize: 30, color: '#000', lineHeight: 40,
  rich: {
    i: {fontFamily: SERIF, fontSize: 30, fontStyle: 'italic', color: '#000', lineHeight: 40},
    s: {fontFamily: SERIF, fontSize: 20, color: '#000', verticalAlign: 'bottom', lineHeight: 40}
  }
};
const fluoNameStyle = {
  fontFamily: SERIF, fontSize: 30, color: '#000', lineHeight: 40, padding: [0, 0, 0, 53],
  rich: {
    sup: {fontFamily: SERIF, fontSize: 19, color: '#000', verticalAlign: 'top', lineHeight: 40}
  }
};

function leftAxis(grid, max) {
  return {
    type: 'value', gridIndex: grid, position: 'left', min: 0, max: max, interval: 200,
    name: '{i|p}CO{s|2} (µatm)', nameLocation: 'middle', nameRotate: 90, nameGap: 96,
    nameTextStyle: pco2NameStyle,
    axisLine: {show: true, lineStyle: {color: AX, width: 1.5}},
    axisTick: {show: true, inside: true, length: 10, lineStyle: {color: AX, width: 1.5}},
    axisLabel: {fontFamily: SERIF, fontSize: 31, color: '#000', margin: 16, formatter: plain},
    splitLine: {show: false}
  };
}

const option = {
  animation: false,
  backgroundColor: '#ffffff',
  grid: [
    {left: 217, top: 67, width: 689, height: 414, show: true, borderColor: AX, borderWidth: 1.5, backgroundColor: 'transparent'},
    {left: 217, top: 537, width: 689, height: 413, show: true, borderColor: AX, borderWidth: 1.5, backgroundColor: 'transparent'}
  ],
  xAxis: [xAxisCfg(0, false), xAxisCfg(1, true)],
  yAxis: [
    leftAxis(0, 1600),
    {
      type: 'value', gridIndex: 0, position: 'right', min: 0, max: 70, interval: 10,
      name: 'Fluorescense (mg L{sup|-1})', nameLocation: 'middle', nameRotate: 90, nameGap: 78,
      nameTextStyle: fluoNameStyle,
      axisLine: {show: true, lineStyle: {color: AX, width: 1.5}},
      axisTick: {show: true, inside: true, length: 10, lineStyle: {color: AX, width: 1.5}},
      axisLabel: {fontFamily: SERIF, fontSize: 31, color: '#000', margin: 18, formatter: plain},
      splitLine: {show: false}
    },
    leftAxis(1, 1800),
    {
      type: 'value', gridIndex: 1, position: 'right', min: -45, max: 250,
      name: 'Fluorescense (mg L{sup|-1})', nameLocation: 'middle', nameRotate: 90, nameGap: 92,
      nameTextStyle: fluoNameStyle,
      axisLine: {show: true, lineStyle: {color: AX, width: 1.5}},
      axisTick: {show: true, inside: true, length: 10, customValues: fluoTicksB, lineStyle: {color: AX, width: 1.5}},
      axisLabel: {fontFamily: SERIF, fontSize: 31, color: '#000', margin: 18, customValues: fluoTicksB, formatter: plain},
      splitLine: {show: false}
    }
  ],
  legend: {
    left: 315, top: 1075, orient: 'horizontal', itemGap: 104, itemWidth: 12, itemHeight: 12,
    selectedMode: false,
    data: ['pCO2', 'Fluoroscense'],
    formatter: function (name) {
      return name === 'pCO2' ? '{g|}{i|p}CO{s|2}' : '{g|}Fluoroscense';
    },
    textStyle: {
      fontFamily: SERIF, fontSize: 38, color: '#000', lineHeight: 50,
      rich: {
        g: {width: 53, lineHeight: 50},
        i: {fontFamily: SERIF, fontSize: 38, fontStyle: 'italic', color: '#000', lineHeight: 50},
        s: {fontFamily: SERIF, fontSize: 25, color: '#000', verticalAlign: 'bottom', lineHeight: 50}
      }
    }
  },
  graphic: [
    {type: 'rect', left: 0, top: 0, shape: {width: 10, height: 1152}, style: {fill: '#00009c'}, z: 100},
    {type: 'rect', left: 0, top: 0, shape: {width: 1096, height: 5}, style: {fill: '#00009c'}, z: 100},
    {type: 'text', x: 563, y: 100, style: {text: 'April-May 2006', fontFamily: SERIF, fontSize: 51, fill: '#000', align: 'center', verticalAlign: 'middle'}, z: 100},
    {type: 'text', x: 557, y: 565, style: {text: 'August 2004', fontFamily: SERIF, fontSize: 51, fill: '#000', align: 'center', verticalAlign: 'middle'}, z: 100},
    {type: 'text', x: 880, y: 453, style: {text: 'a', fontFamily: SERIF, fontSize: 40, fill: '#000', align: 'center', verticalAlign: 'middle'}, z: 100},
    {type: 'text', x: 872, y: 922, style: {text: 'b', fontFamily: SERIF, fontSize: 40, fill: '#000', align: 'center', verticalAlign: 'middle'}, z: 100}
  ],
  series: [
    {
      name: 'pCO2', type: 'scatter', xAxisIndex: 0, yAxisIndex: 0, symbol: 'rect', symbolSize: 11,
      itemStyle: redStyle, z: 2, silent: true,
      data: aprPco2Sparse.concat(expandRows(aprPco2Dense)),
      markLine: {
        silent: true, symbol: ['none', 'none'], label: {show: false},
        lineStyle: {type: [16, 10], color: '#333333', width: 2},
        data: [{yAxis: atmPco2}]
      }
    },
    {
      name: 'Fluoroscense', type: 'scatter', xAxisIndex: 0, yAxisIndex: 1, symbol: 'circle', symbolSize: 10,
      itemStyle: blueStyle, z: 3, silent: true,
      data: aprFluoSparse.concat(expandRows(aprFluoDense))
    },
    {
      name: 'pCO2', type: 'scatter', xAxisIndex: 1, yAxisIndex: 2, symbol: 'rect', symbolSize: 11,
      itemStyle: redStyle, z: 2, silent: true,
      data: augPco2Sparse.concat(expandRows(augPco2Dense)),
      markLine: {
        silent: true, symbol: ['none', 'none'], label: {show: false},
        lineStyle: {type: [16, 10], color: '#333333', width: 2},
        data: [{yAxis: atmPco2}]
      }
    },
    {
      name: 'Fluoroscense', type: 'scatter', xAxisIndex: 1, yAxisIndex: 3, symbol: 'circle', symbolSize: 10,
      itemStyle: blueStyle, z: 3, silent: true,
      data: augFluoSparse.concat(expandRows(augFluoDense))
    }
  ]
};

const chart = echarts.init(document.getElementById('chart'), null, {renderer: 'canvas'});
chart.setOption(option);
</script>
</body>
</html>
